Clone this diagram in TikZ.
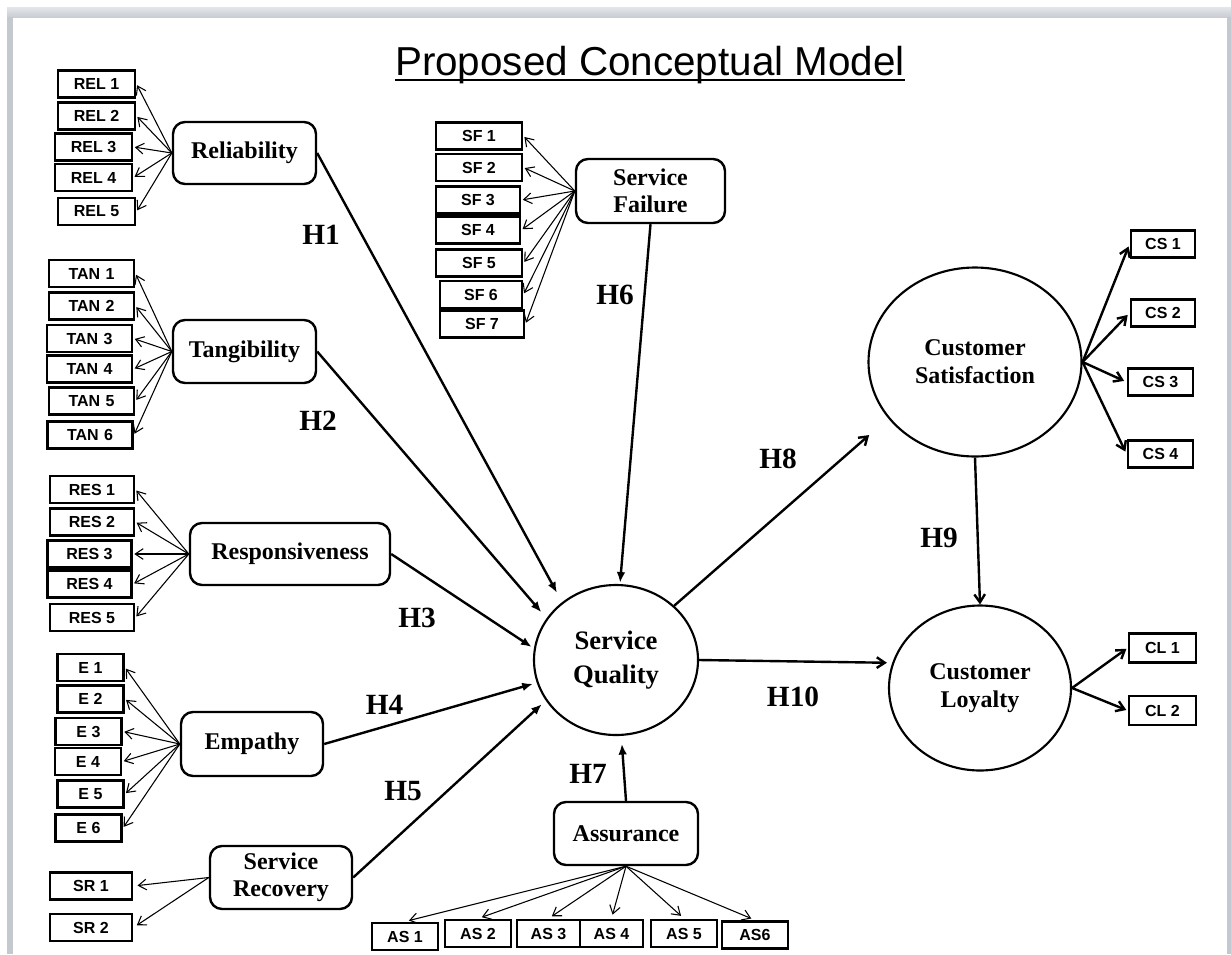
\documentclass[tikz,border=0pt]{standalone}
\usepackage{fontspec}
\setmainfont{Liberation Serif}
\setsansfont{Liberation Sans}
\usetikzlibrary{arrows.meta,shapes.geometric}

\definecolor{bandtop}{HTML}{E3E6EA}
\definecolor{bandbot}{HTML}{C9CDD4}
\definecolor{sidebar}{HTML}{C4C8CF}

\begin{document}
\begin{tikzpicture}[x=0.75pt,y=-0.75pt,
  ind/.style={draw, line width=2.2pt, inner sep=0pt, minimum width=#1*0.75pt,
    minimum height=27*0.75pt, font=\sffamily\bfseries\fontsize{12}{13}\selectfont},
  latent/.style 2 args={draw, rounded corners=9pt, line width=1.8pt, inner sep=0pt,
    align=center, minimum width=#1*0.75pt, minimum height=#2*0.75pt,
    font=\bfseries\fontsize{18}{20}\selectfont},
  construct/.style 2 args={ellipse, draw, line width=1.6pt, inner sep=0pt,
    align=center, minimum width=#1*0.75pt, minimum height=#2*0.75pt,
    font=\bfseries\fontsize{18}{21}\selectfont},
  fan/.style={line width=0.8pt, shorten >=1pt, -{Straight Barb[length=6pt,width=8pt]}},
  hyp/.style={line width=1.8pt, -{Latex[length=8pt,width=6.5pt]}},
  barb/.style={line width=1.8pt, -{Straight Barb[length=6pt,width=8pt]}},
  hlabel/.style={font=\bfseries\fontsize{22}{24}\selectfont, inner sep=0pt}]

\useasboundingbox (0,0) rectangle (1231,954);
% window frame
\fill[white] (0,0) rectangle (1231,954);
\shade[top color=bandtop, bottom color=bandbot] (7,7) rectangle (1231,17);
\fill[sidebar] (7,17) rectangle (13,954);
\fill[sidebar] (1227,17) rectangle (1231,954);

% title
\node[font=\sffamily\fontsize{30.3}{34}\selectfont, anchor=base, inner sep=0pt]
  (title) at (650,75) {Proposed Conceptual Model};
\draw[line width=1.6pt] ([yshift=-4pt]title.base west) -- ([yshift=-4pt]title.base east);

% ---------- Reliability ----------
\node[latent={143}{62}] (rel) at (244.5,153) {Reliability};
\node[ind=77] (rel1) at (96.5,84) {REL 1};
\node[ind=77] (rel2) at (96.5,116) {REL 2};
\node[ind=77] (rel3) at (93.5,147) {REL 3};
\node[ind=77] (rel4) at (93.5,177.5) {REL 4};
\node[ind=77] (rel5) at (96.5,211.5) {REL 5};
\foreach \i in {1,...,5} \draw[fan] (rel.west) -- (rel\i.east);

% ---------- Tangibility ----------
\node[latent={143}{63}] (tan) at (244.5,351.5) {Tangibility};
\node[ind=85] (tan1) at (91.5,273.5) {TAN\,\,1};
\node[ind=85] (tan2) at (91.5,306) {TAN\,\,2};
\node[ind=85] (tan3) at (89.5,338.5) {TAN\,\,3};
\node[ind=85] (tan4) at (89.5,369) {TAN\,\,4};
\node[ind=85] (tan5) at (91.5,401) {TAN\,\,5};
\node[ind=85] (tan6) at (90,435) {TAN\,\,6};
\foreach \i in {1,...,6} \draw[fan] (tan.west) -- (tan\i.east);

% ---------- Responsiveness ----------
\node[latent={200}{62}] (res) at (290,554) {Responsiveness};
\node[ind=84] (res1) at (92,489.5) {RES 1};
\node[ind=84] (res2) at (92,522) {RES 2};
\node[ind=84] (res3) at (89.5,554) {RES 3};
\node[ind=84] (res4) at (89.5,584) {RES 4};
\node[ind=84] (res5) at (92,617.5) {RES 5};
\foreach \i in {1,...,5} \draw[fan] (res.west) -- (res\i.east);

% ---------- Empathy ----------
\node[latent={142}{64}] (emp) at (252,744) {Empathy};
\node[ind=66] (e1) at (90.5,667.5) {E 1};
\node[ind=66] (e2) at (90.5,699) {E 2};
\node[ind=66] (e3) at (88.5,731.5) {E 3};
\node[ind=66] (e4) at (88,761.5) {E 4};
\node[ind=66] (e5) at (90.5,794) {E 5};
\node[ind=66] (e6) at (88.5,828) {E 6};
\foreach \i in {1,...,6} \draw[fan] (emp.west) -- (e\i.east);

% ---------- Service Recovery ----------
\node[latent={142}{63}] (rec) at (281,877.5) {Service\\Recovery};
\node[ind=82] (sr1) at (91,886) {SR 1};
\node[ind=82] (sr2) at (91,927.5) {SR 2};
\foreach \i in {1,2} \draw[fan, shorten >=3pt] (rec.west) -- (sr\i.east);

% ---------- Service Failure ----------
\node[latent={149}{64}] (fail) at (650.5,191) {Service\\Failure};
\node[ind=86] (sf1) at (479,136) {SF 1};
\node[ind=86] (sf2) at (479,167.5) {SF 2};
\node[ind=84] (sf3) at (478,200) {SF 3};
\node[ind=84] (sf4) at (478,230) {SF 4};
\node[ind=86] (sf5) at (479,263) {SF 5};
\node[ind=82] (sf6) at (481,294.5) {SF 6};
\node[ind=84] (sf7) at (482,324) {SF 7};
\foreach \i in {1,...,7} \draw[fan] (fail.west) -- (sf\i.east);

% ---------- Assurance ----------
\node[latent={144}{63}] (assur) at (626,833.5) {Assurance};
\node[ind=66] (as1) at (405,936.5) {AS 1};
\node[ind=66] (as2) at (478,933.5) {AS 2};
\node[ind=63] (as3) at (548.5,933.5) {AS 3};
\node[ind=63] (as4) at (611.5,933.5) {AS 4};
\node[ind=66] (as5) at (684,933.5) {AS 5};
\node[ind=66] (as6) at (755,935) {AS6};
\foreach \i in {1,...,6} \draw[fan, shorten >=3pt] (assur.south) -- (as\i.north);

% ---------- central constructs ----------
\node[construct={164}{150}, font=\bfseries\fontsize{20}{25.5}\selectfont] (sq) at (616,660) {Service\\Quality};
\node[construct={213}{189}] (cs) at (975,362) {Customer\\Satisfaction};
\node[construct={182}{165}] (cl) at (980,688) {Customer\\Loyalty};

% satisfaction and loyalty indicators
\node[ind=64] (cs1) at (1163,244) {CS 1};
\node[ind=64] (cs2) at (1163,313) {CS 2};
\node[ind=65] (cs3) at (1160.5,382) {CS 3};
\node[ind=65] (cs4) at (1160.5,454) {CS 4};
\node[ind=67, minimum height=29*0.75pt] (cl1) at (1162.5,648) {CL 1};
\node[ind=67, minimum height=29*0.75pt] (cl2) at (1162.5,710.5) {CL 2};
\foreach \i in {1,...,4} \draw[barb, shorten >=2pt] (cs.east) -- (cs\i.west);
\foreach \i in {1,2} \draw[barb, shorten >=1pt] (cl.east) -- (cl\i.west);

% ---------- hypotheses ----------
\draw[hyp, shorten >=8pt] (rel.east) -- (sq.133);
\draw[hyp, shorten >=6pt] (tan.east) -- (sq.149);
\draw[hyp, shorten >=2pt] (res.east) -- (sq.172);
\draw[hyp, shorten >=3pt] (emp.east) -- (sq.196);
\draw[hyp, shorten >=4pt] (rec.east) -- (sq.210);
\draw[hyp, shorten >=1pt] (fail.south) -- (sq.87);
\draw[hyp, shorten >=6pt] (assur.north) -- (sq.274);
\draw[barb, shorten >=19pt] (sq.43) -- (cs.213);
\draw[barb] (cs.south) -- (cl.north);
\draw[barb, shorten >=4pt] (sq.east) -- (cl.164);

\node[hlabel] (h1) at (321,235) {H1};
\node[hlabel] (h2) at (318,421) {H2};
\node[hlabel] (h3) at (417,618) {H3};
\node[hlabel] (h4) at (384.5,705) {H4};
\node[hlabel] (h5) at (403,791.5) {H5};
\node[hlabel] (h6) at (615,295) {H6};
\node[hlabel] (h7) at (588,774) {H7};
\node[hlabel] (h8) at (778,459) {H8};
\node[hlabel] (h9) at (939,538) {H9};
\node[hlabel] (h10) at (793,697) {H10};
\end{tikzpicture}
\end{document}
